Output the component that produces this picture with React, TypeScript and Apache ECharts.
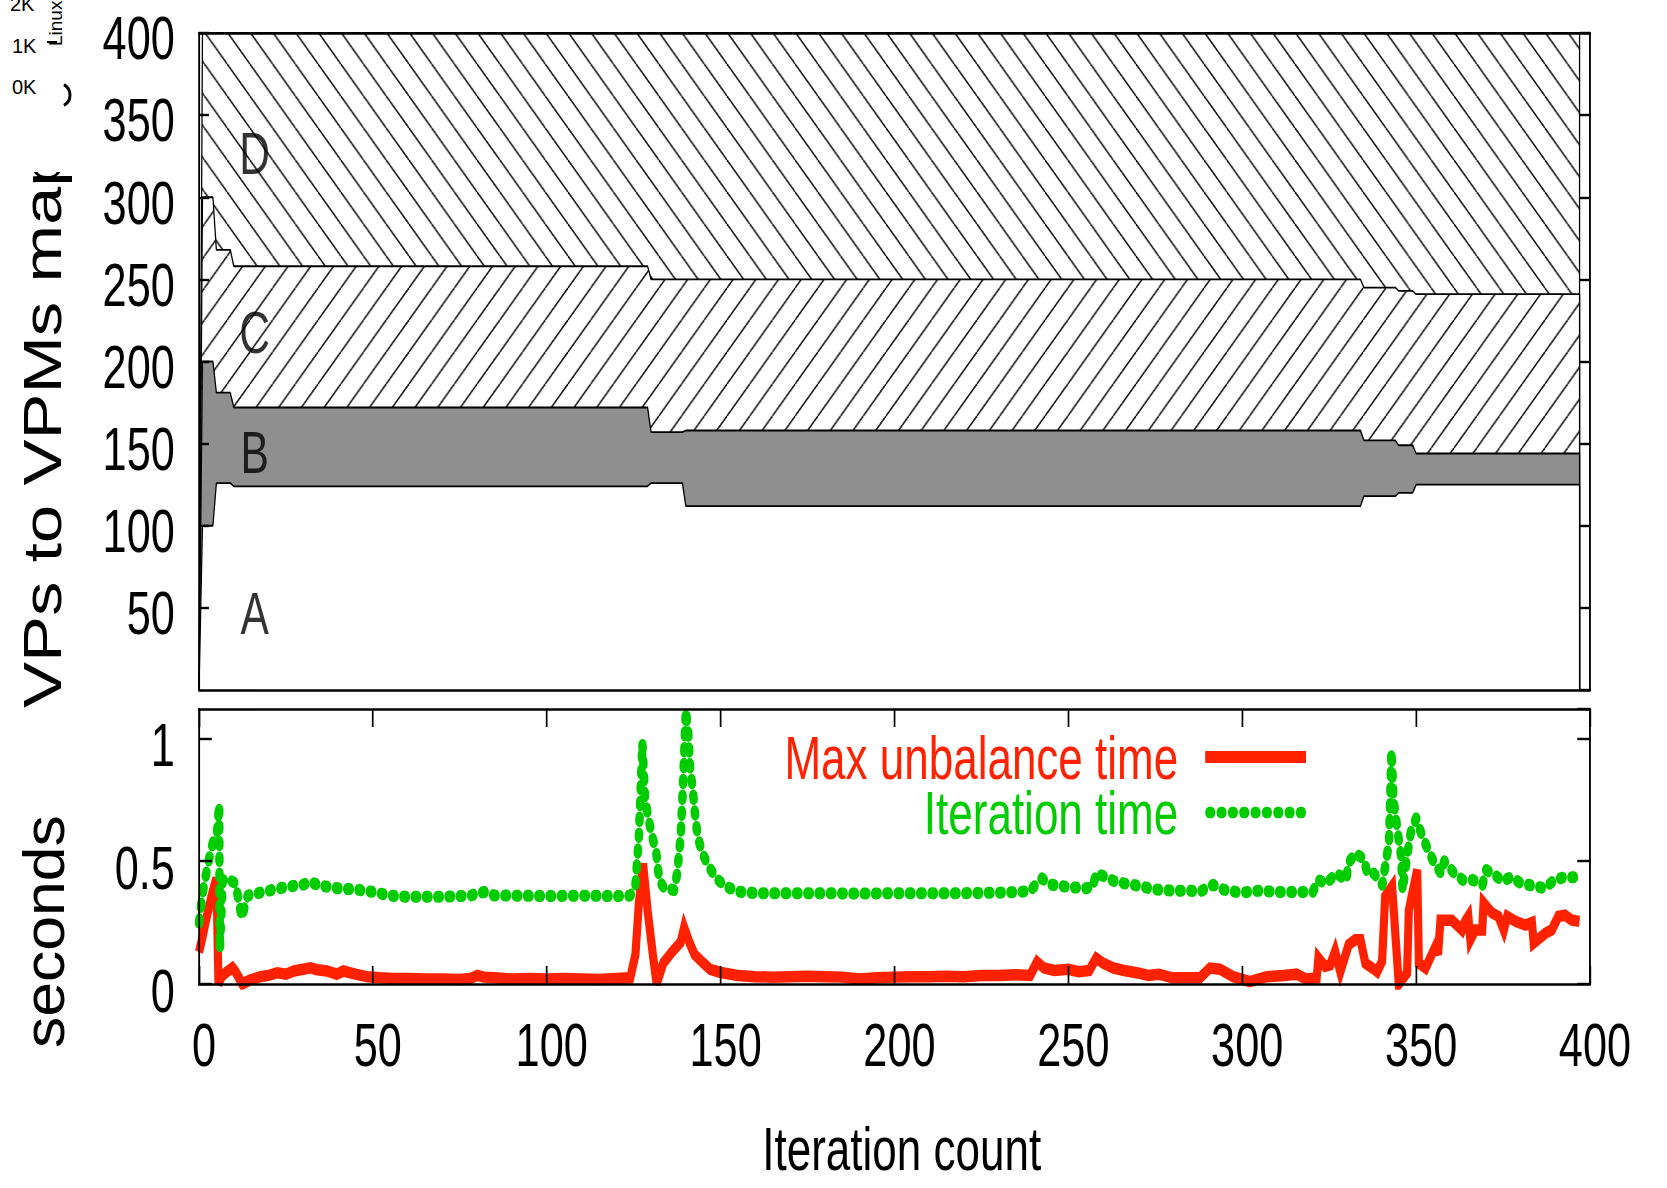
import React, { useEffect, useRef } from 'react';
import * as echarts from 'echarts';

// The original figure is horizontally squeezed; we draw unsqueezed and compress with CSS.
const W = 2348;
const H = 1188;
const S = 1667 / W;
const FONT = "'Liberation Sans', Arial, Helvetica, sans-serif";

// ---- Top panel: cumulative boundaries of the VP-to-VPM mapping regions ----
const mapX = [0, 1, 4, 5, 9, 10, 129, 130, 139, 140, 334, 335, 344, 345, 349, 350, 397];
const boundAB = [0, 100, 100, 126, 126, 124, 124, 126, 126, 112, 112, 118, 118, 120, 120, 125, 125];
const boundBC = [0, 200, 200, 181, 181, 172, 172, 157, 157, 158, 158, 152, 152, 149, 149, 144, 144];
const boundCD = [0, 300, 300, 268, 268, 258, 258, 250, 250, 250, 250, 245, 245, 243, 243, 241, 241];
const boundTop = [0, 400, 400, 400, 400, 400, 400, 400, 400, 400, 400, 400, 400, 400, 400, 400, 400];

const regionNames = ['A', 'B', 'C', 'D'];
const regionLabelX = 16;
const regionLabelY = [47, 145, 218, 327];

const topYTicks = [0, 400, 50];
const botYTicks = [0, 1.12, 0.5];
const xTicks = [0, 400, 50];

// ---- Bottom panel ----
const unbalance: number[][] = [
  [0, 0.13], [1, 0.19], [2, 0.26], [3, 0.32], [4, 0.38], [5, 0.43], [5.6, 0.0], [6.5, 0.03],
  [7.7, 0.046], [9.6, 0.066], [10.5, 0.05], [12.5, 0.0], [14.8, 0.017], [17.7, 0.03], [20, 0.035],
  [22.5, 0.046], [25, 0.04], [27.3, 0.053], [30, 0.06], [32, 0.066], [34, 0.058], [36.8, 0.053],
  [39.6, 0.04], [41.5, 0.053], [45, 0.04], [48.2, 0.03], [52, 0.025], [56, 0.022], [60, 0.022],
  [65, 0.02], [70, 0.02], [75, 0.018], [78, 0.022], [80, 0.035], [82, 0.028], [85, 0.025],
  [90, 0.02], [95, 0.022], [100, 0.02], [105, 0.022], [110, 0.02], [115, 0.018], [120, 0.022],
  [124, 0.025], [125.5, 0.12], [126.5, 0.33], [127.7, 0.49], [129, 0.3], [130.5, 0.12],
  [131.6, 0.0], [133.5, 0.085], [136, 0.13], [138.5, 0.17], [139.5, 0.23], [141, 0.17],
  [142.5, 0.12], [144.7, 0.09], [147, 0.06], [150, 0.047], [155, 0.035], [160, 0.03],
  [165, 0.028], [170, 0.03], [175, 0.032], [180, 0.03], [185, 0.028], [190, 0.02], [195, 0.025],
  [200, 0.028], [205, 0.03], [210, 0.03], [215, 0.032], [220, 0.03], [225, 0.035], [230, 0.035],
  [235, 0.038], [239, 0.035], [241, 0.09], [243, 0.065], [246, 0.055], [250, 0.06], [253, 0.05],
  [256, 0.055], [258, 0.105], [260, 0.085], [263, 0.065], [266, 0.055], [270, 0.045],
  [273, 0.035], [276, 0.04], [280, 0.025], [284, 0.025], [287.8, 0.025], [290.7, 0.065],
  [293.6, 0.06], [297.4, 0.03], [302.2, 0.01], [307, 0.03], [312, 0.035], [315.6, 0.04],
  [318.5, 0.02], [321.4, 0.025], [321.9, 0.106], [323.8, 0.072], [325.3, 0.078], [326.7, 0.133],
  [328.2, 0.05], [330.6, 0.16], [332.5, 0.18], [334, 0.18], [335.4, 0.085], [337.4, 0.065],
  [338.8, 0.05], [340.2, 0.092], [341.1, 0.356], [343.1, 0.397], [345, 0.0], [347.4, 0.045],
  [347.9, 0.3], [350.3, 0.465], [350.8, 0.085], [352.7, 0.065], [355.6, 0.153], [356.3, 0.12],
  [357, 0.26], [360.3, 0.26], [363.2, 0.22], [364.1, 0.255], [365, 0.275], [365.6, 0.18],
  [367, 0.22], [369, 0.22], [369.4, 0.33], [371.8, 0.29], [373.7, 0.275], [375.2, 0.22],
  [376.2, 0.275], [378.6, 0.255], [381.4, 0.24], [383.3, 0.25], [383.8, 0.167], [387.2, 0.207],
  [389, 0.22], [390.9, 0.275], [392.8, 0.28], [394.8, 0.26], [397, 0.255],
];

const iteration: number[][] = [
  [0, 0.25], [0.7, 0.33], [1.5, 0.41], [2.5, 0.48], [3.5, 0.55], [4.5, 0.6], [5.2, 0.62],
  [5.8, 0.73], [6.0, 0.14], [6.8, 0.42], [8, 0.43], [10.5, 0.41], [12.3, 0.27], [14, 0.36],
  [17, 0.37], [20, 0.38], [25, 0.395], [30, 0.405], [32, 0.415], [35, 0.4], [40, 0.39],
  [45, 0.385], [50, 0.375], [55, 0.36], [60, 0.355], [70, 0.355], [78, 0.36], [82, 0.375],
  [85, 0.36], [90, 0.36], [100, 0.358], [110, 0.36], [120, 0.358], [124, 0.36], [125.5, 0.4],
  [126.5, 0.6], [127.5, 0.98], [128.3, 0.75], [129.2, 0.68], [130, 0.62], [131.5, 0.534],
  [131.9, 0.478], [132.4, 0.42], [133.8, 0.39], [136.6, 0.383], [137.5, 0.45], [138.5, 0.6],
  [139.3, 0.85], [140, 1.115], [140.7, 1.02], [141.2, 0.885], [142, 0.79], [142.5, 0.71],
  [143.4, 0.6], [144.8, 0.53], [146.8, 0.473], [149.2, 0.424], [152, 0.394], [155.4, 0.376],
  [160, 0.37], [170, 0.37], [180, 0.37], [190, 0.368], [200, 0.37], [210, 0.37], [220, 0.37],
  [230, 0.372], [236, 0.375], [239, 0.38], [242.4, 0.43], [245, 0.405], [250, 0.395],
  [255, 0.39], [257, 0.395], [258, 0.45], [260, 0.44], [263, 0.42], [266, 0.41], [270, 0.4],
  [275, 0.385], [280, 0.38], [285, 0.38], [287.8, 0.376], [291.6, 0.404], [294.5, 0.385],
  [298.3, 0.375], [301.2, 0.374], [304.5, 0.38], [310.8, 0.375], [317, 0.375], [320.3, 0.375],
  [321.8, 0.424], [324.2, 0.41], [327, 0.45], [330, 0.424], [330.4, 0.49], [332.5, 0.532],
  [334.9, 0.51], [336, 0.45], [337.9, 0.45], [340.3, 0.404], [341.2, 0.49], [342.2, 0.573],
  [342.9, 0.95], [343.5, 0.75], [344.7, 0.62], [345.7, 0.52], [346.1, 0.38], [347.1, 0.49],
  [348.1, 0.587], [348.5, 0.62], [350, 0.675], [351.3, 0.62], [353.3, 0.55], [355.3, 0.49],
  [357.2, 0.45], [358.1, 0.5], [361, 0.45], [363.4, 0.424], [366.3, 0.424], [369.1, 0.404],
  [370.1, 0.465], [372, 0.45], [374.9, 0.42], [377.3, 0.435], [380.2, 0.41], [383.6, 0.4],
  [386.9, 0.39], [389.8, 0.424], [392.7, 0.435], [395.6, 0.435], [397, 0.44],
];

const RED = '#ff2200';
const GREEN = '#00cc00';
const GRAY = '#8f8f8f';

function makeHatch(forward: boolean) {
  const size = 32;
  const c = document.createElement('canvas');
  c.width = size;
  c.height = size;
  const ctx = c.getContext('2d')!;
  ctx.fillStyle = '#fff';
  ctx.fillRect(0, 0, size, size);
  ctx.strokeStyle = '#000';
  ctx.lineWidth = 1.8;
  for (const k of [-size, 0, size]) {
    ctx.beginPath();
    if (forward) {
      ctx.moveTo(k, size);
      ctx.lineTo(k + size, 0);
    } else {
      ctx.moveTo(k, 0);
      ctx.lineTo(k + size, size);
    }
    ctx.stroke();
  }
  return c;
}

function dotIcon() {
  let d = '';
  for (let i = 0; i < 9; i++) {
    const cx = 7.1 + 15.9 * i;
    d += `M${(cx - 1.25).toFixed(2)} 0h2.5a5.85 5.85 0 0 1 0 11.7h-2.5a5.85 5.85 0 0 1 0-11.7Z`;
  }
  return 'path://' + d;
}

const toPairs = (vals: number[]) => {
  const p = mapX.map((x, i) => [x, vals[i]]);
  p.push([mapX[mapX.length - 1], 0]);
  return p;
};

export default function App() {
  const ref = useRef<HTMLDivElement>(null);

  useEffect(() => {
    if (!ref.current) return;
    const chart = echarts.init(ref.current, null, { renderer: 'svg', width: W, height: H });
    const GL = 199 / S;
    const GR = W - 1590 / S;

    const lineAxis = { show: true, onZero: false, lineStyle: { color: '#000', width: 2.6 } };
    const tick = (len: number) => ({ show: true, inside: true, length: len, lineStyle: { color: '#000', width: 2.4 } });
    const label = (show: boolean, margin: number, extra: any = {}) => ({
      show, fontSize: 61, color: '#000', fontFamily: FONT, margin, ...extra,
    });

    const xAxis = [
      { type: 'value', gridIndex: 0, position: 'bottom', min: xTicks[0], max: xTicks[1], interval: xTicks[2],
        axisLine: lineAxis, axisTick: { show: false }, axisLabel: { show: false }, splitLine: { show: false }, z: 10 },
      { type: 'value', gridIndex: 0, position: 'top', min: xTicks[0], max: xTicks[1], interval: xTicks[2],
        axisLine: lineAxis, axisTick: { show: false }, axisLabel: { show: false }, splitLine: { show: false }, z: 10 },
      { type: 'value', gridIndex: 1, position: 'bottom', min: xTicks[0], max: xTicks[1], interval: xTicks[2],
        axisLine: lineAxis, axisTick: tick(18), axisLabel: label(true, 30, { padding: [0, 0, 0, 14] }),
        splitLine: { show: false }, z: 10 },
      { type: 'value', gridIndex: 1, position: 'top', min: xTicks[0], max: xTicks[1], interval: xTicks[2],
        axisLine: lineAxis, axisTick: tick(18), axisLabel: { show: false }, splitLine: { show: false }, z: 10 },
    ];
    const yAxis = [
      { type: 'value', gridIndex: 0, position: 'left', min: topYTicks[0], max: topYTicks[1], interval: topYTicks[2],
        axisLine: lineAxis, axisTick: tick(14),
        axisLabel: label(true, 34, { showMinLabel: false, verticalAlign: 'top', lineHeight: 10 }),
        splitLine: { show: false }, z: 10 },
      { type: 'value', gridIndex: 0, position: 'right', min: topYTicks[0], max: topYTicks[1], interval: topYTicks[2],
        axisLine: lineAxis, axisTick: tick(14), axisLabel: { show: false }, splitLine: { show: false }, z: 10 },
      { type: 'value', gridIndex: 1, position: 'left', min: botYTicks[0], max: botYTicks[1], interval: botYTicks[2],
        axisLine: lineAxis, axisTick: tick(18),
        axisLabel: label(true, 34, { showMaxLabel: false, verticalAlign: 'top', lineHeight: 13, formatter: (v: number) => String(v) }),
        splitLine: { show: false }, z: 10 },
      { type: 'value', gridIndex: 1, position: 'right', min: botYTicks[0], max: botYTicks[1], interval: botYTicks[2],
        axisLine: lineAxis, axisTick: tick(18), axisLabel: { show: false }, splitLine: { show: false }, z: 10 },
    ];

    const hatchBack = { image: makeHatch(false), repeat: 'repeat' };
    const hatchFwd = { image: makeHatch(true), repeat: 'repeat' };

    const region = (name: string, vals: number[], fill: any, z: number) => ({
      name, type: 'line', xAxisIndex: 0, yAxisIndex: 0, data: toPairs(vals),
      showSymbol: false, symbol: 'none', silent: true, z,
      lineStyle: { color: '#000', width: 1.8 },
      areaStyle: { color: fill, opacity: 1 },
    });

    const option: any = {
      animation: false,
      backgroundColor: '#fff',
      textStyle: { fontFamily: FONT },
      grid: [
        { left: GL, right: GR, top: 33, height: 657, show: false },
        { left: GL, right: GR, top: 709, height: 275, show: false },
      ],
      xAxis,
      yAxis,
      legend: {
        orient: 'vertical',
        align: 'right',
        right: W - 1306 / S,
        top: 726,
        padding: 0,
        itemGap: -6.5,
        itemWidth: 142,
        itemHeight: 12,
        selectedMode: false,
        itemStyle: { borderWidth: 0 },
        textStyle: { fontSize: 62, fontFamily: FONT, lineHeight: 53.5, padding: [0, 33, 0, 0] },
        data: [
          { name: 'Max unbalance time', icon: 'rect', itemStyle: { color: RED, borderWidth: 0 }, textStyle: { color: RED } },
          { name: 'Iteration time', icon: dotIcon(), itemStyle: { color: GREEN, borderWidth: 0 }, textStyle: { color: GREEN } },
        ],
      },
      series: [
        region('D', boundTop, hatchBack, 2),
        region('C', boundCD, hatchFwd, 3),
        region('B', boundBC, GRAY, 4),
        region('A', boundAB, '#ffffff', 5),
        {
          name: 'labels', type: 'scatter', xAxisIndex: 0, yAxisIndex: 0, silent: true, z: 8,
          symbolSize: 0, itemStyle: { color: 'rgba(0,0,0,0)' },
          data: regionNames.map((n, i) => ({ name: n, value: [regionLabelX, regionLabelY[i]] })),
          label: { show: true, position: 'inside', formatter: '{b}', fontSize: 60, color: '#000', fontFamily: FONT },
        },
        {
          name: 'Max unbalance time', type: 'line', xAxisIndex: 2, yAxisIndex: 2, data: unbalance,
          showSymbol: false, symbol: 'none', z: 6, color: RED,
          lineStyle: { color: RED, width: 11.5, join: 'miter', miterLimit: 3 },
        },
        {
          name: 'Iteration time', type: 'line', xAxisIndex: 2, yAxisIndex: 2, data: iteration,
          showSymbol: false, symbol: 'none', z: 7, color: GREEN,
          lineStyle: { color: GREEN, width: 12, type: [3.5, 12.4], cap: 'round', join: 'round' },
        },
      ],
      graphic: [
        { type: 'text', x: 60, y: 708, rotation: Math.PI / 2, scaleY: 1.08, z: 50,
          style: { text: 'VPs to VPMs mapping', fontSize: 69, fontFamily: FONT, fill: '#000',
            textAlign: 'left', textVerticalAlign: 'middle', align: 'left', verticalAlign: 'middle' } },
        { type: 'text', x: 62, y: 1048, rotation: Math.PI / 2, scaleY: 1.3, z: 50,
          style: { text: 'seconds', fontSize: 62.5, fontFamily: FONT, fill: '#000',
            textAlign: 'left', textVerticalAlign: 'middle', align: 'left', verticalAlign: 'middle' } },
        { type: 'text', x: 901.7 / S, y: 1148, z: 50,
          style: { text: 'Iteration count', fontSize: 62, fontFamily: FONT, fill: '#000',
            textAlign: 'center', textVerticalAlign: 'middle', align: 'center', verticalAlign: 'middle' } },
        { type: 'rect', x: 0, y: 0, z: 60, shape: { width: 135, height: 172 }, style: { fill: '#fff' } },
        { type: 'text', x: 10 / S, y: 4, scaleX: 1 / S, z: 70,
          style: { text: '2K', fontSize: 20, fontFamily: FONT, fill: '#000', textVerticalAlign: 'middle', verticalAlign: 'middle' } },
        { type: 'text', x: 12 / S, y: 46, scaleX: 1 / S, z: 70,
          style: { text: '1K', fontSize: 20, fontFamily: FONT, fill: '#000', textVerticalAlign: 'middle', verticalAlign: 'middle' } },
        { type: 'text', x: 12 / S, y: 87, scaleX: 1 / S, z: 70,
          style: { text: '0K', fontSize: 20, fontFamily: FONT, fill: '#000', textVerticalAlign: 'middle', verticalAlign: 'middle' } },
        { type: 'text', x: 55 / S, y: 46, rotation: Math.PI / 2, scaleY: 1 / S, z: 70,
          style: { text: 'Linux', fontSize: 19, fontFamily: FONT, fill: '#000', textVerticalAlign: 'middle', verticalAlign: 'middle' } },
        { type: 'line', z: 70, shape: { x1: 47 / S, y1: 42, x2: 57 / S, y2: 42 }, style: { stroke: '#000', lineWidth: 2 } },
        { type: 'arc', z: 70, x: 58 / S, y: 95, scaleX: 1 / S,
          shape: { cx: 0, cy: 0, r: 12, startAngle: -Math.PI / 3, endAngle: Math.PI / 3 },
          style: { stroke: '#000', lineWidth: 3, fill: 'none' } },
      ],
    };

    chart.setOption(option);
    return () => chart.dispose();
  }, []);

  return (
    <div style={{ position: 'fixed', left: 0, top: 0, width: 1667, height: 1188, overflow: 'hidden', background: '#fff' }}>
      <div
        ref={ref}
        style={{ position: 'absolute', left: 0, top: 0, width: W, height: H, transform: `scaleX(${S})`, transformOrigin: '0 0' }}
      />
    </div>
  );
}
